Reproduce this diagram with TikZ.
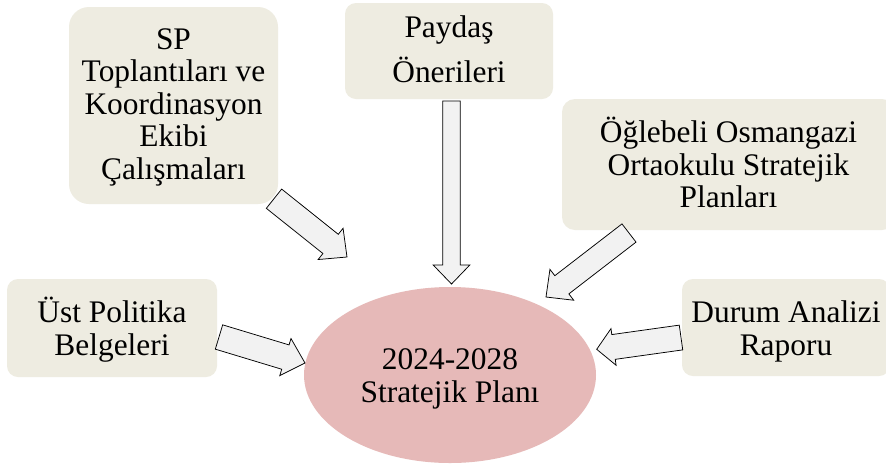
\documentclass[tikz,border=0pt]{standalone}
\usepackage{fontspec}
\setmainfont{Liberation Serif}
\usetikzlibrary{calc,shapes.geometric}
\definecolor{boxfill}{HTML}{EEECE1}
\definecolor{ellfill}{HTML}{E6B9B8}
\definecolor{arrfill}{HTML}{F2F2F2}
\tikzset{
  srcbox/.style={draw=none, fill=boxfill, inner sep=0pt},
  boxtext/.style={align=center, inner sep=0pt, font=\fontsize{31.4}{32.5}\selectfont},
  blockarrow/.style={draw=black, line width=0.75pt, fill=arrfill, line join=miter},
}
% #1 tail, #2 tip, #3 half shaft width, #4 half head width, #5 head length
\newcommand{\blockarr}[5]{%
  \coordinate (hb) at ($(#2)!#5!(#1)$);
  \draw[blockarrow] ($(#1)!#3!90:(#2)$) -- ($(hb)!#3!90:(#2)$) -- ($(hb)!#4!90:(#2)$)
    -- (#2) -- ($(hb)!#4!-90:(#2)$) -- ($(hb)!#3!-90:(#2)$) -- ($(#1)!#3!-90:(#2)$) -- cycle;
}
\begin{document}
\begin{tikzpicture}[x=1pt,y=-1pt]
  \useasboundingbox (0,0) rectangle (886,467);
  \clip (0,0) rectangle (886,467);
  \fill[white] (0,0) rectangle (886,467);

  % target ellipse
  \node[ellipse, fill=ellfill, minimum width=292pt, minimum height=176pt, inner sep=0pt] (plan) at (450,375) {};
  \node[boxtext] (plantxt) at ($(plan.center)+(0,4)$) {2024-2028\\Stratejik Planı};

  % source boxes
  \node[srcbox, minimum width=209pt, minimum height=197pt, rounded corners=20pt] (sp) at (173.5,105.5) {};
  \node[boxtext] (sptxt) at ($(sp.center)+(0,1.5)$)
    {SP\\Toplantıları ve\\Koordinasyon\\Ekibi\\Çalışmaları};
  \node[srcbox, minimum width=208pt, minimum height=96pt, rounded corners=11pt] (paydas) at (449,51) {};
  \node[boxtext, font=\fontsize{31.4}{44.5}\selectfont] (paydastxt) at ($(paydas.center)+(0,-1.5)$)
    {Paydaş\\Önerileri};
  \node[srcbox, minimum width=333pt, minimum height=131pt, rounded corners=13pt] (ogle) at (728.5,164.5) {};
  \node[boxtext] (ogletxt) at ($(ogle.center)+(0,-2)$)
    {Öğlebeli Osmangazi\\Ortaokulu Stratejik\\Planları};
  \node[srcbox, minimum width=210pt, minimum height=98pt, rounded corners=11pt] (ust) at (112,328) {};
  \node[boxtext] (usttxt) at ($(ust.center)+(0,1.5)$) {Üst Politika\\Belgeleri};
  \node[srcbox, minimum width=208pt, minimum height=97pt, rounded corners=11pt] (durum) at (786,327.5) {};
  \node[boxtext] (durumtxt) at ($(durum.center)+(0,4)$) {Durum Analizi\\Raporu};

  % connector end points
  \coordinate (spT) at (274,198.7);   \coordinate (spH) at (347,257);
  \coordinate (pdT) at (451.5,101);   \coordinate (pdH) at (451.5,284);
  \coordinate (ogT) at (629,233);     \coordinate (ogH) at (546,297);
  \coordinate (usT) at (219,337);     \coordinate (usH) at (305,363);
  \coordinate (drT) at (681,337.5);   \coordinate (drH) at (596.7,349.3);

  \blockarr{spT}{spH}{12.3pt}{20pt}{21pt}
  \blockarr{pdT}{pdH}{8.7pt}{18.3pt}{19pt}
  \blockarr{ogT}{ogH}{11.5pt}{19.5pt}{20pt}
  \blockarr{usT}{usH}{12.7pt}{19.4pt}{20.5pt}
  \blockarr{drT}{drH}{12.5pt}{18.5pt}{17pt}
\end{tikzpicture}
\end{document}
